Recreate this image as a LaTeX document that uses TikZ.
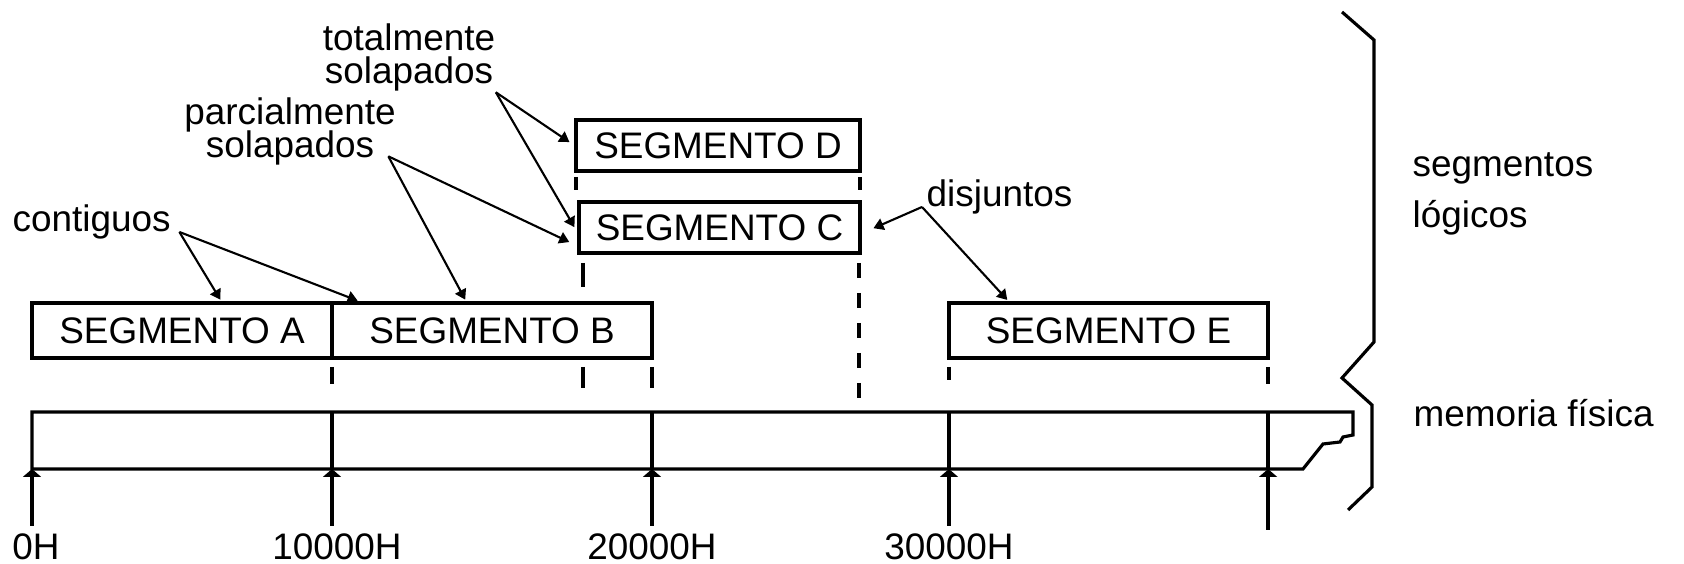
\documentclass[tikz,border=0pt]{standalone}
\usepackage{fontspec}
\setmainfont{Liberation Sans}
\usetikzlibrary{arrows.meta, positioning, calc}
\setlength{\lineskiplimit}{-10pt}

\begin{document}
\begin{tikzpicture}[
    every node/.style={font=\fontsize{10.5}{12}\selectfont},
    seg/.style={rectangle, draw, line width=0.9pt, fill=white, inner sep=0pt,
                minimum height=0.55cm},
    note/.style={inner sep=0pt, align=center, font=\fontsize{10.5}{9.4}\selectfont},
    ptr/.style={-{Triangle[length=1mm, width=1.2mm]}, line width=0.6pt, shorten >=0.02cm},
    addr/.style={-{Triangle[length=0.8mm, width=1.8mm]}, line width=0.9pt},
    mem/.style={line width=0.9pt, line join=miter},
    lim/.style={line width=0.9pt}
]
    \useasboundingbox (0,0) rectangle (16.84,5.64);

    % limites de los segmentos
    \draw[lim] (5.76,3.87) -- ++(0,-0.13);
    \draw[lim] (8.60,3.87) -- ++(0,-0.13);
    \draw[lim] (5.83,3.01) -- ++(0,-0.24);
    \draw[lim] (5.83,1.97) -- ++(0,-0.21);
    \draw[lim, dash pattern=on 0.15cm off 0.15cm] (8.59,3.01) -- (8.59,1.62);
    \draw[lim] (3.32,1.97) -- ++(0,-0.17);
    \draw[lim] (6.52,1.97) -- ++(0,-0.21);
    \draw[lim] (9.49,1.97) -- ++(0,-0.13);
    \draw[lim] (12.68,1.97) -- ++(0,-0.17);

    % segmentos logicos
    \node[seg, minimum width=3.00cm] (segA) at (1.82,2.335) {SEGMENTO A};
    \node[seg, minimum width=3.20cm] (segB) at (4.92,2.335) {SEGMENTO B};
    \node[seg, minimum width=3.19cm] (segE) at (11.085,2.335) {SEGMENTO E};
    \node[seg, minimum width=2.81cm, minimum height=0.51cm] (segC) at (7.195,3.365) {SEGMENTO C};
    \node[seg, minimum width=2.84cm, minimum height=0.51cm] (segD) at (7.18,4.185) {SEGMENTO D};

    % memoria fisica
    \draw[mem] (0.32,1.52) -- (13.53,1.52) -- (13.53,1.29) -- (13.43,1.27)
        -- (13.40,1.22) -- (13.23,1.20) -- (13.03,0.95) -- (0.32,0.95) -- cycle;
    \coordinate (m0) at (0.32,0.95);
    \coordinate (m1) at (3.32,0.95);
    \coordinate (m2) at (6.52,0.95);
    \coordinate (m3) at (9.49,0.95);
    \coordinate (m4) at (12.68,0.95);
    \draw[mem] (m1) -- ++(0,0.57);
    \draw[mem] (m2) -- ++(0,0.57);
    \draw[mem] (m3) -- ++(0,0.57);
    \draw[mem] (m4) -- ++(0,0.57);

    % direcciones
    \node[anchor=north, inner sep=0.07cm] (h0) at (0.36,0.38) {0H};
    \node[anchor=north, inner sep=0.07cm] (h1) at (3.37,0.38) {10000H};
    \node[anchor=north, inner sep=0.07cm] (h2) at (6.52,0.38) {20000H};
    \node[anchor=north, inner sep=0.07cm] (h3) at (9.49,0.38) {30000H};
    \coordinate (h4) at (12.68,0.34);
    \draw[addr] (m0 |- h0.north) -- (m0);
    \draw[addr] (m1 |- h1.north) -- (m1);
    \draw[addr] (m2 |- h2.north) -- (m2);
    \draw[addr] (m3 |- h3.north) -- (m3);
    \draw[addr] (h4) -- (m4);

    % llave
    \draw[mem] (13.42,5.52) -- (13.74,5.24) -- (13.74,2.22) -- (13.42,1.86)
        -- (13.72,1.59) -- (13.72,0.77) -- (13.48,0.54);
    \node[anchor=north west, inner sep=0pt, align=left,
          font=\fontsize{10.5}{14.5}\selectfont] (logic) at (14.12,4.12) {segmentos\\lógicos};
    \node[anchor=base west, inner sep=0pt] (phys) at (14.13,1.37) {memoria física};

    % tipos de segmentos
    \node[note, anchor=north] (total) at (4.09,5.405) {totalmente\\solapados};
    \node[note, anchor=north] (parc) at (2.90,4.665) {parcialmente\\solapados};
    \node[anchor=base west, inner xsep=0.08cm, inner ysep=0pt] (contig) at (0.04,3.32) {contiguos};
    \node[anchor=base west, inner xsep=0.04cm, inner ysep=0pt] (disj) at (9.22,3.57) {disjuntos};

    \draw[ptr] (contig.base east) -- ($(segA.north west)!0.63!(segA.north east)$);
    \draw[ptr] (contig.base east) -- ($(segB.north west)!0.09!(segB.north east)$);
    \draw[ptr] ($(parc.south east)+(-0.08,0.10)$) -- ($(segB.north west)!0.42!(segB.north east)$);
    \draw[ptr, shorten >=0.09cm] ($(parc.south east)+(-0.08,0.10)$) -- ($(segC.south west)!0.16!(segC.north west)$);
    \draw[ptr, shorten >=0.06cm] (total.south east) -- (segD.west);
    \draw[ptr, shorten >=0.06cm] (total.south east) -- ($(segC.south west)!0.41!(segC.north west)$);
    \draw[ptr, shorten >=0.13cm] (disj.base west) -- ($(segC.south east)!0.39!(segC.north east)$);
    \draw[ptr] (disj.base west) -- ($(segE.north west)!0.19!(segE.north east)$);
\end{tikzpicture}
\end{document}
